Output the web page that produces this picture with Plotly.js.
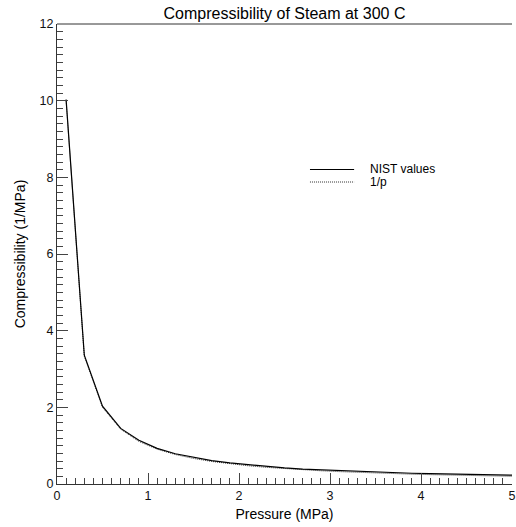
<!DOCTYPE html>
<html>
<head>
<meta charset="utf-8">
<script src="https://cdn.plot.ly/plotly-3.0.1.min.js"></script>
<style>html,body{margin:0;padding:0;background:#fff;overflow:hidden;}#chart{width:516px;height:527px;}</style>
</head>
<body>
<div id="chart"></div>
<script>
const pressure = [0.1,0.3,0.5,0.7,0.9,1.1,1.3,1.5,1.7,1.9,2.1,2.3,2.5,2.7,2.9,3.1,3.3,3.5,3.7,3.9,4.1,4.3,4.5,4.7,4.9,5.1];
const nistValues = [10.03,3.36,2.03,1.45,1.14,0.93,0.79,0.69,0.61,0.55,0.50,0.46,0.42,0.39,0.37,0.35,0.33,0.31,0.29,0.28,0.27,0.26,0.25,0.24,0.235,0.228];
const inverseP = [10,3.333,2,1.429,1.111,0.909,0.769,0.667,0.588,0.526,0.476,0.435,0.4,0.370,0.345,0.323,0.303,0.286,0.270,0.256,0.244,0.233,0.222,0.213,0.204,0.196];
const seriesNames = ["NIST values","1/p"];

const FONT = "Liberation Sans, Arial, sans-serif";
const data = [
  {x: pressure, y: inverseP, name: seriesNames[1], mode: "lines", line: {color: "#333", width: 1, dash: "1px,1px"}},
  {x: pressure, y: nistValues, name: seriesNames[0], mode: "lines", line: {color: "#000", width: 1.2}}
];
const axisCommon = {
  showgrid: false, zeroline: false, showline: true, linecolor: "#333", linewidth: 1,
  ticks: "inside", ticklen: 11, tickcolor: "#444", tickwidth: 1,
  tickfont: {family: FONT, size: 12.5, color: "#111"}
};
// legend drawn as layout decorations (tight spacing as in the reference)
const legY = [0.6837, 0.6565];
const legX0 = 0.556, legX1 = 0.653, legText = 0.683;
const layout = {
  width: 516, height: 527,
  margin: {l: 57, r: 4, t: 24, b: 43},
  paper_bgcolor: "#fff", plot_bgcolor: "#fff",
  font: {family: FONT, color: "#000"},
  title: {text: "Compressibility of Steam at 300 C", font: {family: FONT, size: 16, color: "#000"},
          xref: "paper", x: 0.5, xanchor: "center", yref: "paper", y: 1, yanchor: "bottom", pad: {b: 5}},
  xaxis: Object.assign({}, axisCommon, {
    range: [0, 5], dtick: 1, tick0: 0,
    minor: {dtick: 0.1, ticks: "inside", ticklen: 6, tickcolor: "#444"},
    title: {text: "Pressure (MPa)", font: {family: FONT, size: 14, color: "#000"}, standoff: 7}
  }),
  yaxis: Object.assign({}, axisCommon, {
    range: [0, 12], dtick: 2, tick0: 0,
    minor: {dtick: 0.2, ticks: "inside", ticklen: 6, tickcolor: "#444"},
    title: {text: "Compressibility (1/MPa)", font: {family: FONT, size: 14, color: "#000"}, standoff: 10}
  }),
  showlegend: false,
  shapes: [
    {type: "line", xref: "paper", yref: "paper", x0: 0, x1: 1, y0: 1, y1: 1, line: {color: "#333", width: 1}},
    {type: "line", xref: "paper", yref: "paper", x0: legX0, x1: legX1, y0: legY[0], y1: legY[0], line: {color: "#000", width: 1.2}},
    {type: "line", xref: "paper", yref: "paper", x0: legX0, x1: legX1, y0: legY[1], y1: legY[1], line: {color: "#333", width: 1, dash: "1px,1px"}}
  ],
  annotations: [
    {text: seriesNames[0], xref: "paper", yref: "paper", x: legText, y: legY[0], xanchor: "left", yanchor: "middle", showarrow: false, font: {family: FONT, size: 12, color: "#000"}},
    {text: seriesNames[1], xref: "paper", yref: "paper", x: legText, y: legY[1], xanchor: "left", yanchor: "middle", showarrow: false, font: {family: FONT, size: 12, color: "#000"}}
  ]
};
Plotly.newPlot("chart", data, layout, {staticPlot: true, displayModeBar: false});
</script>
</body>
</html>
